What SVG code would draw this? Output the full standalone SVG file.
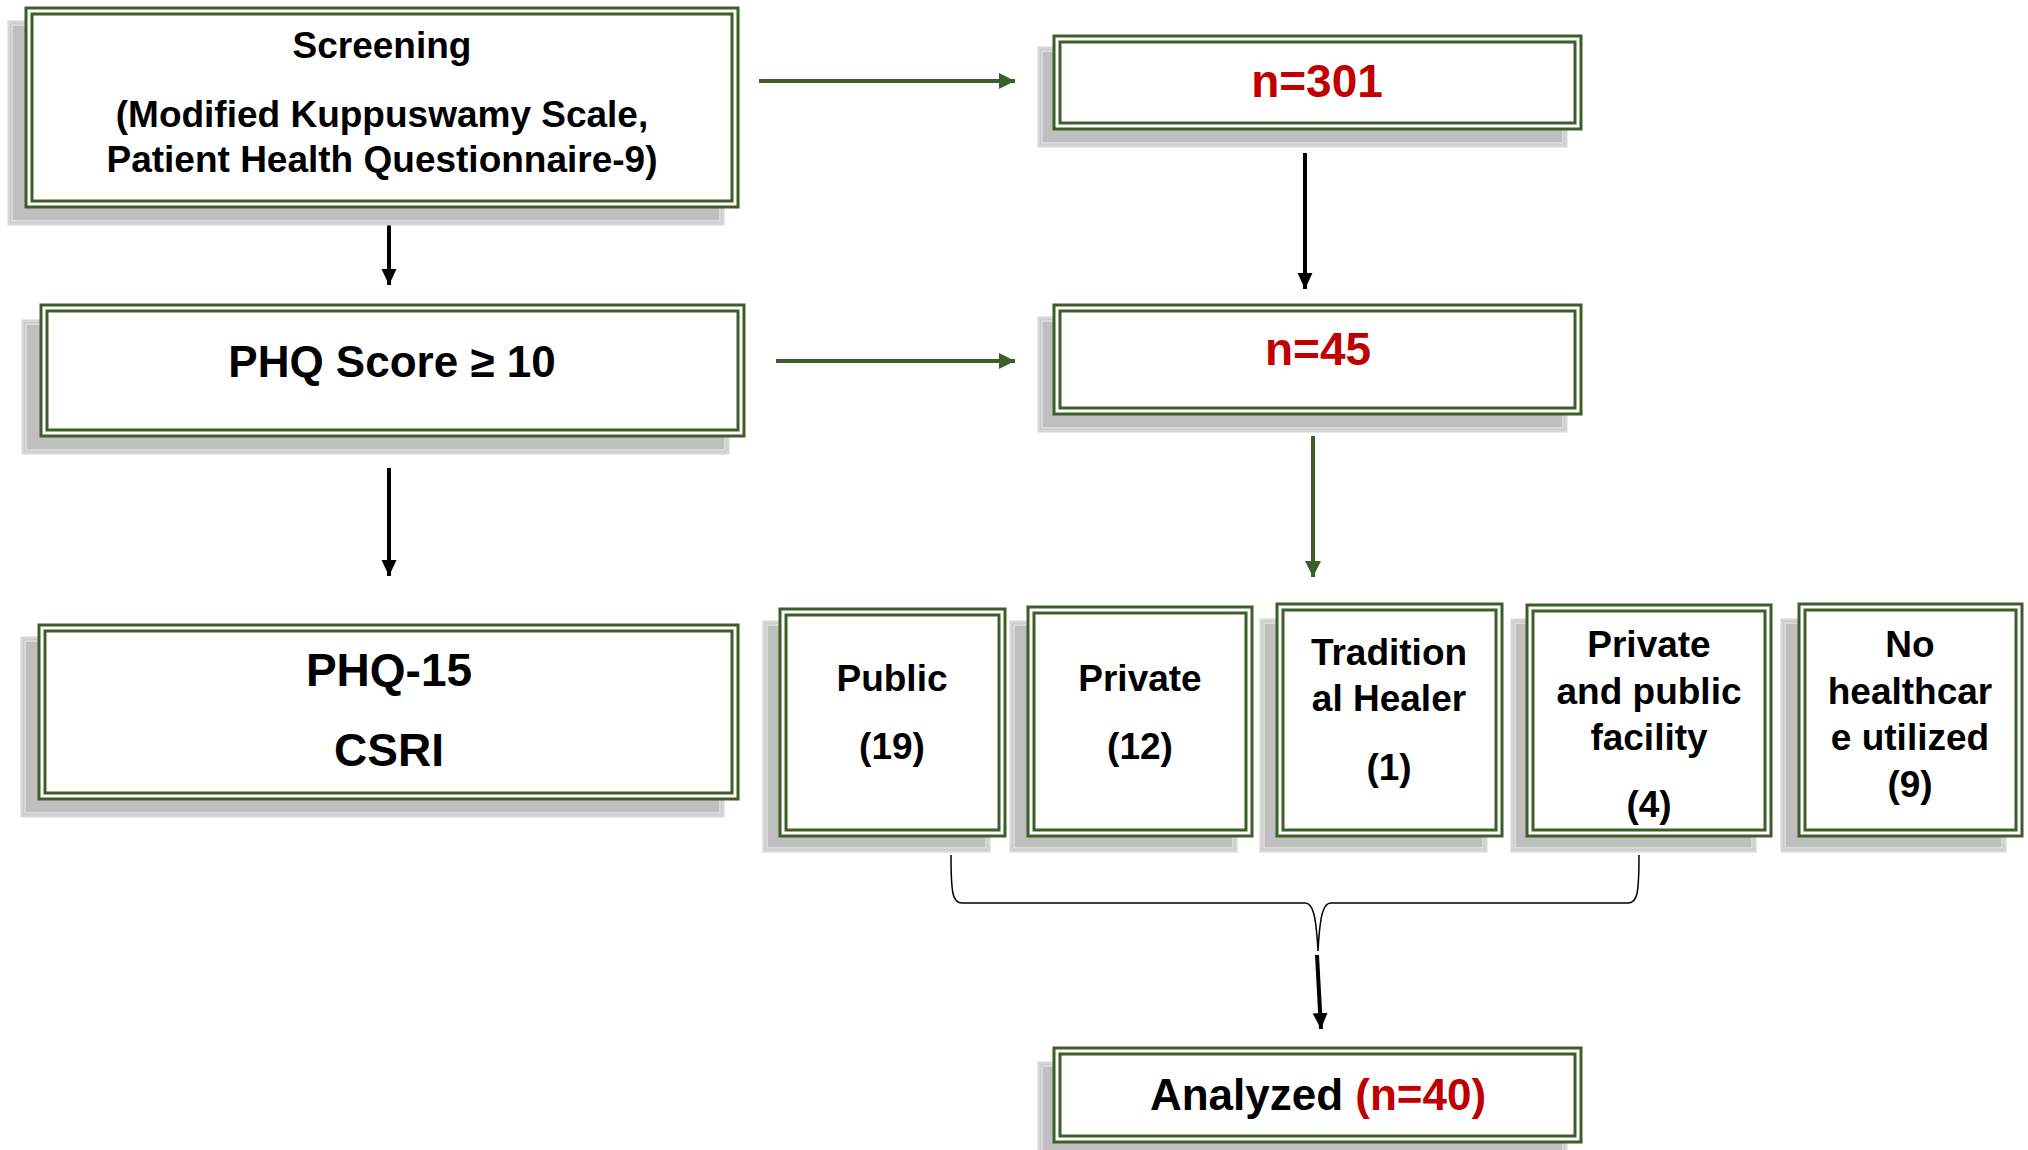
<svg xmlns="http://www.w3.org/2000/svg" width="2028" height="1150" viewBox="0 0 2028 1150">
<style>
.sh{fill:#bfbfbf;stroke:#d6d6d6;stroke-width:3}
.shi{fill:none;stroke:#f2f2f2;stroke-width:1}
.bo{fill:#fff;stroke:#3c5f2a;stroke-width:3}
.bi{fill:none;stroke:#3c5f2a;stroke-width:3}
text{font-family:"Liberation Sans",Arial,sans-serif;font-weight:bold;fill:#000;text-anchor:middle}
.red{fill:#c00000}
.g{stroke:#3c5f2a;stroke-width:4;fill:none}
.k{stroke:#000;stroke-width:4;fill:none}
</style>
<defs>
<marker id="ag" markerUnits="userSpaceOnUse" markerWidth="18" markerHeight="18" refX="16" refY="8" orient="auto"><path d="M0,0 L16,8 L0,16 Z" fill="#3c5f2a"/></marker>
<marker id="ak" markerUnits="userSpaceOnUse" markerWidth="18" markerHeight="18" refX="16" refY="7.5" orient="auto"><path d="M0,0 L16,7.5 L0,15 Z" fill="#000"/></marker>
</defs>
<g id="connectors">
<line class="g" x1="759" y1="81" x2="1015" y2="81" marker-end="url(#ag)"/>
<line class="g" x1="776" y1="361" x2="1015" y2="361" marker-end="url(#ag)"/>
<line class="k" x1="389" y1="222" x2="389" y2="285" marker-end="url(#ak)"/>
<line class="k" x1="1305" y1="153" x2="1305" y2="289" marker-end="url(#ak)"/>
<line class="k" x1="389" y1="468" x2="389" y2="576" marker-end="url(#ak)"/>
<line class="g" x1="1313" y1="436" x2="1313" y2="577" marker-end="url(#ag)"/>
<path d="M951,855 C951,895 953,903 962,903 L1305,903 C1313,903 1316,915 1318,951 C1320,915 1323,903 1331,903 L1628,903 C1637,903 1639,895 1639,855" fill="none" stroke="#000" stroke-width="1.5"/>
<line class="k" x1="1317" y1="955" x2="1321" y2="1029" marker-end="url(#ak)"/>
</g>
<g id="screening">
<rect class="sh" x="9" y="22" width="714" height="202"/><rect class="shi" x="12" y="25" width="708" height="196"/>
<rect class="bo" x="26" y="8" width="712" height="199"/><rect class="bi" x="32" y="14" width="700" height="187"/>
<text x="382" y="58" font-size="37">Screening</text>
<text x="382" y="127" font-size="37">(Modified Kuppuswamy Scale,</text>
<text x="382" y="172" font-size="37">Patient Health Questionnaire-9)</text>
</g>
<g id="n301">
<rect class="sh" x="1039" y="48" width="527" height="98"/><rect class="shi" x="1042" y="51" width="521" height="92"/>
<rect class="bo" x="1054" y="36" width="527" height="93"/><rect class="bi" x="1060" y="42" width="515" height="81"/>
<text class="red" x="1317" y="97" font-size="46">n=301</text>
</g>
<g id="phqscore">
<rect class="sh" x="23" y="321" width="705" height="132"/><rect class="shi" x="26" y="324" width="699" height="126"/>
<rect class="bo" x="41" y="305" width="703" height="131"/><rect class="bi" x="47" y="311" width="691" height="119"/>
<text x="392" y="377" font-size="44">PHQ Score ≥ 10</text>
</g>
<g id="n45">
<rect class="sh" x="1039" y="318" width="527" height="113"/><rect class="shi" x="1042" y="321" width="521" height="107"/>
<rect class="bo" x="1054" y="305" width="527" height="109"/><rect class="bi" x="1060" y="311" width="515" height="97"/>
<text class="red" x="1318" y="365" font-size="46">n=45</text>
</g>
<g id="phq15">
<rect class="sh" x="22" y="638" width="701" height="178"/><rect class="shi" x="25" y="641" width="695" height="172"/>
<rect class="bo" x="39" y="625" width="699" height="174"/><rect class="bi" x="45" y="631" width="687" height="162"/>
<text x="389" y="686" font-size="46">PHQ-15</text>
<text x="389" y="766" font-size="46">CSRI</text>
</g>
<g id="public">
<rect class="sh" x="764" y="622" width="225" height="229"/><rect class="shi" x="767" y="625" width="219" height="223"/>
<rect class="bo" x="780" y="609" width="225" height="227"/><rect class="bi" x="786" y="615" width="213" height="215"/>
<text x="892" y="691" font-size="37">Public</text>
<text x="892" y="759" font-size="37">(19)</text>
</g>
<g id="private">
<rect class="sh" x="1011" y="622" width="225" height="229"/><rect class="shi" x="1014" y="625" width="219" height="223"/>
<rect class="bo" x="1028" y="607" width="224" height="229"/><rect class="bi" x="1034" y="613" width="212" height="217"/>
<text x="1140" y="691" font-size="37">Private</text>
<text x="1140" y="759" font-size="37">(12)</text>
</g>
<g id="traditional">
<rect class="sh" x="1261" y="620" width="225" height="231"/><rect class="shi" x="1264" y="623" width="219" height="225"/>
<rect class="bo" x="1277" y="604" width="225" height="232"/><rect class="bi" x="1283" y="610" width="213" height="220"/>
<text x="1389" y="665" font-size="37">Tradition</text>
<text x="1389" y="711" font-size="37">al Healer</text>
<text x="1389" y="780" font-size="37">(1)</text>
</g>
<g id="privatepublic">
<rect class="sh" x="1512" y="620" width="243" height="231"/><rect class="shi" x="1515" y="623" width="237" height="225"/>
<rect class="bo" x="1527" y="605" width="244" height="231"/><rect class="bi" x="1533" y="611" width="232" height="219"/>
<text x="1649" y="657" font-size="37">Private</text>
<text x="1649" y="704" font-size="37">and public</text>
<text x="1649" y="750" font-size="37">facility</text>
<text x="1649" y="817" font-size="37">(4)</text>
</g>
<g id="nohealthcare">
<rect class="sh" x="1782" y="620" width="223" height="231"/><rect class="shi" x="1785" y="623" width="217" height="225"/>
<rect class="bo" x="1799" y="604" width="223" height="232"/><rect class="bi" x="1805" y="610" width="211" height="220"/>
<text x="1910" y="657" font-size="37">No</text>
<text x="1910" y="704" font-size="37">healthcar</text>
<text x="1910" y="750" font-size="37">e utilized</text>
<text x="1910" y="797" font-size="37">(9)</text>
</g>
<g id="analyzed">
<rect class="sh" x="1039" y="1063" width="527" height="95"/><rect class="shi" x="1042" y="1066" width="521" height="89"/>
<rect class="bo" x="1054" y="1048" width="527" height="94"/><rect class="bi" x="1060" y="1054" width="515" height="82"/>
<text x="1318" y="1110" font-size="44">Analyzed <tspan class="red">(n=40)</tspan></text>
</g>
</svg>
